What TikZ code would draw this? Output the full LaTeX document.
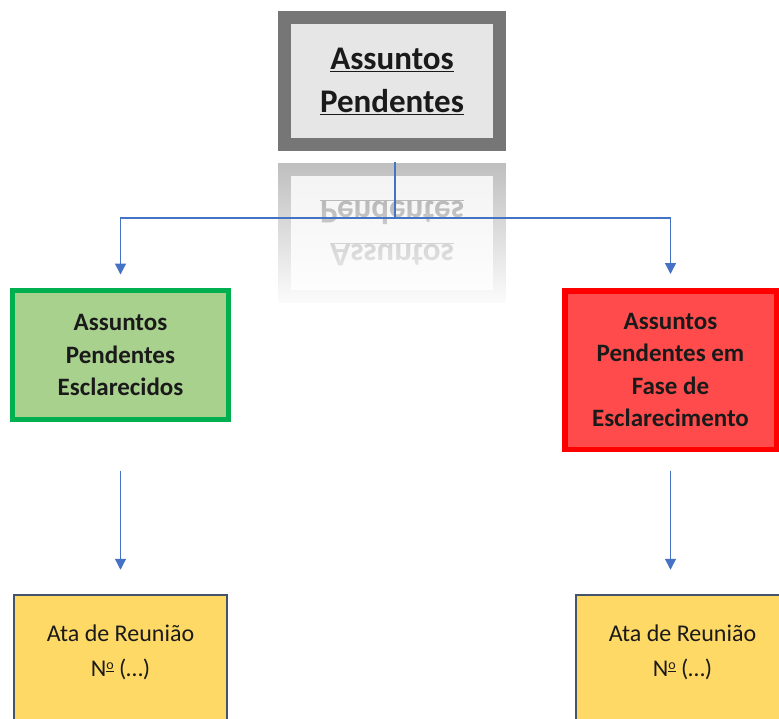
\documentclass[tikz,border=0pt]{standalone}
\usepackage{fontspec}
\setmainfont{Carlito}
\usetikzlibrary{arrows.meta,fadings}
\definecolor{topgray}{HTML}{767676}
\definecolor{topfill}{HTML}{E7E6E6}
\definecolor{refgray}{HTML}{BEBEBE}
\definecolor{reffill}{HTML}{F3F3F3}
\definecolor{reftext}{HTML}{A0A0A0}
\definecolor{grnline}{HTML}{00B050}
\definecolor{grnfill}{HTML}{A9D18E}
\definecolor{redline}{HTML}{FF0000}
\definecolor{redfill}{HTML}{FF4B4B}
\definecolor{ylwfill}{HTML}{FFD966}
\definecolor{ylwline}{HTML}{44546A}
\definecolor{arrblue}{HTML}{4472C4}
\definecolor{txtdark}{HTML}{1A1A1A}
\newcommand{\numsign}{N\raisebox{6.5pt}{\fontsize{14}{14}\selectfont\underline{o}}}
\tikzfading[name=reflfade, top color=transparent!100, bottom color=transparent!0]
\tikzset{
  basebox/.style={rectangle, inner sep=0pt, align=center},
  topbox/.style={basebox, line width=13pt, minimum width=215pt, minimum height=127pt,
    font=\fontsize{33}{43}\selectfont\bfseries},
  greenbox/.style={basebox, draw=grnline, fill=grnfill, line width=5pt,
    minimum width=216pt, minimum height=129pt, text=txtdark,
    font=\fontsize{25}{32.5}\selectfont\bfseries},
  redbox/.style={basebox, draw=redline, fill=redfill, line width=5.5pt,
    minimum width=211.5pt, minimum height=158.5pt, text=txtdark,
    font=\fontsize{25}{32.5}\selectfont\bfseries},
  ylwbox/.style={basebox, draw=ylwline, fill=ylwfill, line width=2.5pt,
    minimum width=213pt, minimum height=150pt},
  ylwtext/.style={basebox, text=txtdark, font=\fontsize{24}{35}\selectfont},
  conn/.style={draw=arrblue, line width=1.3pt},
  arr/.style={conn, -{Triangle[length=11pt,width=11pt]}}
}
\begin{document}
\begin{tikzpicture}[x=1pt,y=-1pt]
\clip (0,0) rectangle (779,718);
\fill[white] (0,0) rectangle (779,718);

% top box and its reflection
\node[topbox, draw=topgray, fill=topfill, text=txtdark] (top) at (392,81)
  {\underline{Assuntos}\\\underline{Pendentes}};
\node[topbox, draw=refgray, fill=reffill, text=reftext, yscale=-1] (refl) at (392,233)
  {\underline{Assuntos}\\\underline{Pendentes}};
\fill[white, path fading=reflfade] (268,160) rectangle (516,310);

% level 2
\node[greenbox] (green) at (120.5,355) {Assuntos\\Pendentes\\Esclarecidos};
\node[redbox] (red) at (670.5,370) {Assuntos\\Pendentes em\\Fase de\\Esclarecimento};

% level 3
\node[ylwbox] (ylwL) at (120.5,670) {};
\node[ylwbox] (ylwR) at (682.5,670) {};
\node[ylwtext] (ylwLt) at (120.5,652) {Ata de Reunião\\\numsign{} (…)};
\node[ylwtext] (ylwRt) at (682.5,652) {Ata de Reunião\\\numsign{} (…)};

% connectors
\coordinate (s) at (395,162);
\coordinate (j) at (395,218);
\draw[conn] (s) -- (j);
\draw[arr, shorten >=13.5pt] (j) -| (green.north);
\draw[arr, shorten >=14pt] (j) -| (red.north);
\draw[arr, shorten <=48.5pt, shorten >=24pt] (green.south) -- (green.south |- ylwL.north);
\draw[arr, shorten <=18.5pt, shorten >=24pt] (red.south) -- (red.south |- ylwR.north);
\end{tikzpicture}
\end{document}
